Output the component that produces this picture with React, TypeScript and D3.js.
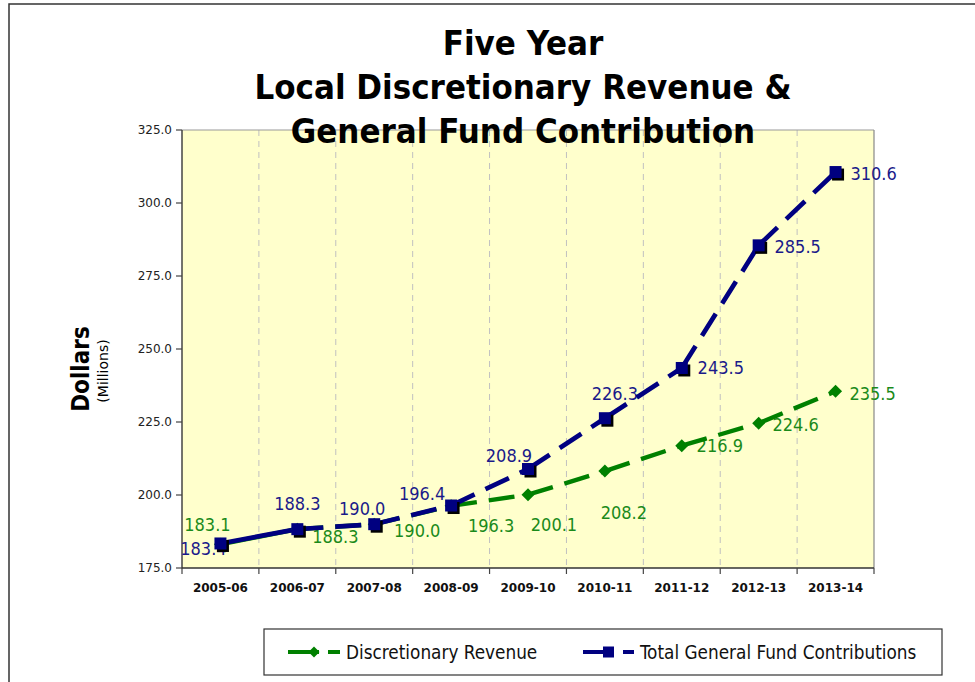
import React from 'react';
import * as d3 from 'd3';

const categories = ['2005-06', '2006-07', '2007-08', '2008-09', '2009-10', '2010-11', '2011-12', '2012-13', '2013-14'];
const discretionary = [183.1, 188.3, 190.0, 196.3, 200.1, 208.2, 216.9, 224.6, 235.5];
const totalGF = [183.4, 188.3, 190.0, 196.4, 208.9, 226.3, 243.5, 285.5, 310.6];
const yTicks = [175, 200, 225, 250, 275, 300, 325];
const titleLines = ['Five Year', 'Local Discretionary Revenue &', 'General Fund Contribution'];
const seriesNames = ['Discretionary Revenue', 'Total General Fund Contributions'];

// label placement (layout only): offset of label centre from its point
const discLabelOffsets = [[-13, -20], [38, 7], [43, 6], [40, 20], [26, 30], [19, 41], [38, 0], [37, 1], [37, 2]];
const totalLabelOffsets = [[-17, 5], [0, -26], [-12, -16], [-29, -12], [-19, -13], [10, -25], [39, 0], [39, 1], [38, 1]];

const COND = "'DejaVu Sans Condensed', 'DejaVu Sans', sans-serif";
const DV = "'DejaVu Sans', sans-serif";
const GREEN = '#008000';
const GREEN_TXT = '#1a8a1a';
const NAVY = '#000080';
const NAVY_TXT = '#1a1a8a';

export default function App() {
  const L = 182, R = 874, T = 130, B = 568;
  const x = d3.scaleBand<string>().domain(categories).range([L, R]);
  const y = d3.scaleLinear().domain([175, 325]).range([B, T]);
  const cx = (i: number) => (x(categories[i]) as number) + x.bandwidth() / 2;
  const boundaries = d3.range(categories.length + 1).map((k) => L + k * x.bandwidth());
  const line = d3.line<[number, number]>().x((d) => d[0]).y((d) => d[1]);

  const segments = (vals: number[]) =>
    vals.slice(1).map((v, i) => ({
      i: i + 1,
      d: line([[cx(i), y(vals[i])], [cx(i + 1), y(v)]]) as string,
    }));

  const labelStyle = { fontFamily: COND, fontStretch: 'condensed' as const, fontSize: 18 };
  const legendStyle = { fontFamily: COND, fontStretch: 'condensed' as const, fontSize: 18.8 };
  const diamond = (px: number, py: number, r: number) =>
    `M${px},${py - r}L${px + r},${py}L${px},${py + r}L${px - r},${py}Z`;

  return (
    <svg width={975} height={682} style={{ position: 'absolute', left: 0, top: 0, background: '#fff' }}>
      <rect x={9} y={4} width={1000} height={720} fill="#fff" stroke="#333" strokeWidth={1.5} />

      {/* plot area */}
      <rect x={L} y={T} width={R - L} height={B - T} fill="#FFFFCC" />
      {boundaries.slice(1, -1).map((bx) => (
        <line key={bx} x1={bx} x2={bx} y1={T} y2={B} stroke="#c0c0c0" strokeWidth={1} strokeDasharray="6 5" />
      ))}
      <line x1={L} x2={R} y1={T} y2={T} stroke="#999" strokeWidth={1.2} />
      <line x1={R} x2={R} y1={T} y2={B} stroke="#888" strokeWidth={1.2} />
      <line x1={L} x2={L} y1={T} y2={B + 0.5} stroke="#444" strokeWidth={1.5} />
      <line x1={L} x2={R} y1={B} y2={B} stroke="#333" strokeWidth={1.5} />

      {/* title (drawn over the plot area) */}
      {titleLines.map((t, i) => (
        <text key={t} x={523} y={55 + i * 44} textAnchor="middle" fontFamily={COND} fontStretch="condensed"
          fontWeight="bold" fontSize={34.5} fill="#000">{t}</text>
      ))}

      {/* y axis */}
      {yTicks.map((t) => (
        <g key={t}>
          <line x1={L - 6} x2={L} y1={y(t)} y2={y(t)} stroke="#444" strokeWidth={1.2} />
          <text x={172} y={y(t)} dy="0.35em" textAnchor="end" fontFamily={DV} fontSize={12} fill="#222">
            {t.toFixed(1)}
          </text>
        </g>
      ))}
      {/* x axis */}
      {boundaries.map((bx) => (
        <line key={bx} x1={bx} x2={bx} y1={B} y2={B + 6} stroke="#444" strokeWidth={1.2} />
      ))}
      {categories.map((c, i) => (
        <text key={c} x={cx(i)} y={592} textAnchor="middle" fontFamily={DV} fontWeight="bold" fontSize={12} fill="#111">
          {c}
        </text>
      ))}

      {/* axis title */}
      <text transform="translate(89,369) rotate(-90)" textAnchor="middle" fontFamily={COND} fontStretch="condensed"
        fontWeight="bold" fontSize={24} fill="#000">Dollars</text>
      <text transform="translate(108,371) rotate(-90)" textAnchor="middle" fontFamily={DV} fontSize={14}
        fill="#000">(Millions)</text>

      {/* data labels */}
      {discretionary.map((v, i) => (
        <text key={'dl' + i} x={cx(i) + discLabelOffsets[i][0]} y={y(v) + discLabelOffsets[i][1]} dy="0.36em"
          textAnchor="middle" {...labelStyle} fill={GREEN_TXT}>{v.toFixed(1)}</text>
      ))}
      {totalGF.map((v, i) => (
        <text key={'tl' + i} x={cx(i) + totalLabelOffsets[i][0]} y={y(v) + totalLabelOffsets[i][1]} dy="0.36em"
          textAnchor="middle" {...labelStyle} fill={NAVY_TXT}>{v.toFixed(1)}</text>
      ))}

      {/* lines */}
      {segments(discretionary).map((s) => (
        <path key={'ds' + s.i} d={s.d} fill="none" stroke={GREEN} strokeWidth={4.4}
          strokeDasharray={s.i === 1 ? undefined : '26 12'} />
      ))}
      {segments(totalGF).map((s) => (
        <path key={'ts' + s.i} d={s.d} fill="none" stroke={NAVY} strokeWidth={4.7}
          strokeDasharray={s.i === 1 ? undefined : '26 12'} />
      ))}

      {/* markers */}
      {discretionary.map((v, i) => (
        <path key={'dm' + i} d={diamond(cx(i), y(v), 6.5)} fill={GREEN} />
      ))}
      {totalGF.map((v, i) => (
        <g key={'tm' + i}>
          <rect x={cx(i) - 6 + 2.5} y={y(v) - 6 + 2.5} width={12} height={12} fill="#000" />
          <rect x={cx(i) - 6} y={y(v) - 6} width={12} height={12} fill={NAVY} />
        </g>
      ))}

      {/* legend */}
      <rect x={264} y={629} width={678} height={46} fill="#fff" stroke="#333" strokeWidth={1.2} />
      <line x1={288} x2={340} y1={652} y2={652} stroke={GREEN} strokeWidth={4} strokeDasharray="31 9" />
      <path d={diamond(314, 652, 5.5)} fill={GREEN} />
      <text x={346} y={652} dy="0.36em" {...legendStyle} fill="#111">{seriesNames[0]}</text>
      <line x1={583} x2={634} y1={652} y2={652} stroke={NAVY} strokeWidth={4} strokeDasharray="31 9" />
      <rect x={603} y={646.5} width={11} height={11} fill={NAVY} />
      <text x={640} y={652} dy="0.36em" {...legendStyle} fill="#111">{seriesNames[1]}</text>
    </svg>
  );
}
